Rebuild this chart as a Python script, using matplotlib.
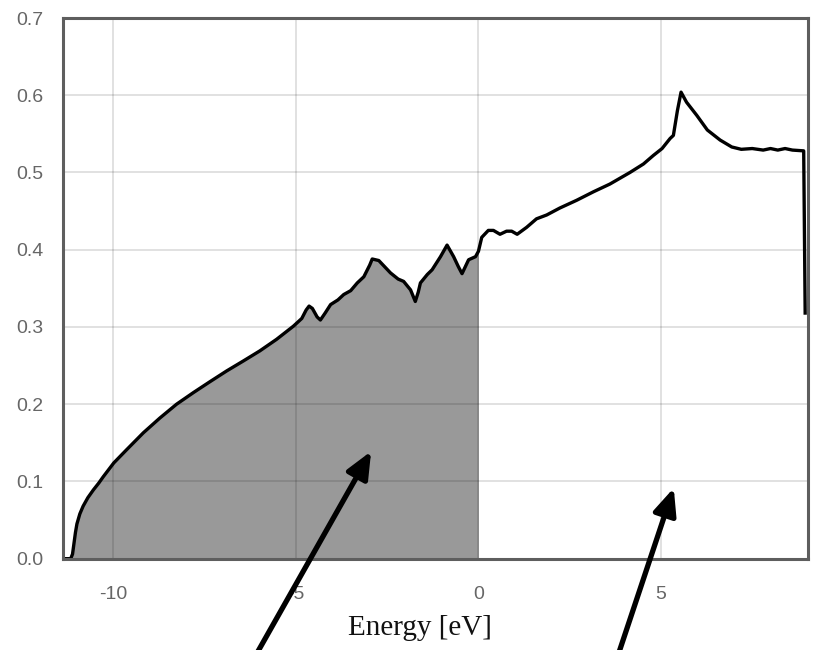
"""Density of states plot with occupied states shaded."""
import numpy as np
import matplotlib
matplotlib.use("Agg")
import matplotlib.pyplot as plt

# curve (energy in eV, DOS)
energy = [
    -11.39, -11.17, -11.12, -11.08, -11.04, -11.00, -10.92, -10.83, -10.70, -10.55,
    -10.40, -10.28, -9.99, -9.64, -9.18, -8.73, -8.27, -7.81, -7.36, -6.90,
    -6.44, -5.99, -5.53, -5.07, -4.84, -4.72, -4.64, -4.55, -4.42, -4.33,
    -4.20, -4.05, -3.85, -3.69, -3.50, -3.32, -3.14, -2.98, -2.91, -2.73,
    -2.55, -2.41, -2.20, -2.05, -1.86, -1.73, -1.65, -1.59, -1.40, -1.27,
    -1.04, -0.86, -0.68, -0.55, -0.45, -0.27, -0.08, 0.00, 0.09, 0.27,
    0.41, 0.59, 0.77, 0.91, 1.06, 1.32, 1.59, 1.87, 2.23, 2.69,
    3.15, 3.60, 4.15, 4.52, 4.79, 5.03, 5.25, 5.34, 5.45, 5.55,
    5.70, 5.98, 6.27, 6.62, 6.94, 7.20, 7.50, 7.80, 8.00, 8.20,
    8.40, 8.60, 8.91, 8.95,
]
dos = [
    0.000, 0.000, 0.006, 0.020, 0.034, 0.045, 0.058, 0.068, 0.079, 0.089,
    0.098, 0.106, 0.124, 0.141, 0.163, 0.182, 0.200, 0.215, 0.229, 0.243,
    0.256, 0.269, 0.284, 0.301, 0.311, 0.322, 0.327, 0.324, 0.313, 0.309,
    0.318, 0.329, 0.335, 0.342, 0.347, 0.357, 0.365, 0.380, 0.388, 0.386,
    0.377, 0.370, 0.362, 0.359, 0.348, 0.333, 0.345, 0.357, 0.368, 0.374,
    0.391, 0.406, 0.391, 0.378, 0.369, 0.387, 0.391, 0.398, 0.416, 0.425,
    0.425, 0.420, 0.424, 0.424, 0.420, 0.429, 0.440, 0.445, 0.454, 0.464,
    0.475, 0.485, 0.500, 0.511, 0.522, 0.531, 0.544, 0.548, 0.580, 0.604,
    0.591, 0.574, 0.555, 0.542, 0.533, 0.530, 0.531, 0.529, 0.531, 0.529,
    0.531, 0.529, 0.528, 0.318,
]

x_ticks = [-10, -5, 0, 5]
y_ticks = [0.0, 0.1, 0.2, 0.3, 0.4, 0.5, 0.6, 0.7]
fermi_level = 0.0

# arrow tips (data coords) and tails (figure fraction)
arrow_tips = [(-2.94, 0.139), (5.35, 0.0915)]
arrow_tails = [(0.316, -0.005), (0.761, -0.005)]


def main():
    plt.rcParams["axes.unicode_minus"] = False
    e = np.array(energy)
    d = np.array(dos)

    fig = plt.figure(figsize=(8.13, 6.5), dpi=100)
    ax = fig.add_axes([0.0771, 0.1405, 0.9164, 0.8318])

    ax.fill_between(e, d, where=e <= fermi_level, color="#999999", lw=0, zorder=1)
    ax.plot(e, d, color="black", lw=2.4, zorder=3, solid_joinstyle="round")

    ax.set_xlim(-11.39, 9.02)
    ax.set_ylim(0, 0.7)
    ax.set_xticks(x_ticks)
    ax.set_yticks(y_ticks)
    ax.set_xticklabels([str(v) for v in x_ticks])
    ax.set_yticklabels([f"{v:.1f}" for v in y_ticks])
    ax.grid(True, color="black", alpha=0.13, lw=1.3, zorder=2)
    ax.set_axisbelow(False)
    ax.tick_params(length=0, labelsize=14, labelcolor="#666666", pad=14)
    for lab in ax.get_xticklabels() + ax.get_yticklabels():
        lab.set_family("Liberation Sans")
    ax.tick_params(axis="x", pad=20)

    for sp in ax.spines.values():
        sp.set_color("#5e5e5e")
        sp.set_linewidth(2.2)
        sp.set_zorder(4)

    ax.set_xlabel("Energy [eV]", family="Liberation Serif", fontsize=21, color="#111111")
    ax.xaxis.set_label_coords(0.48, -0.105)

    for tip, tail in zip(arrow_tips, arrow_tails):
        ax.annotate("", xy=tip, xycoords="data", xytext=tail, textcoords="figure fraction",
                    annotation_clip=False,
                    arrowprops=dict(arrowstyle="-|>,head_length=0.8,head_width=0.35",
                                    mutation_scale=20, lw=3.8, color="black",
                                    shrinkA=0, shrinkB=0),
                    zorder=5)

    fig.savefig("out.png", dpi=100)
    plt.close(fig)


if __name__ == "__main__":
    main()
